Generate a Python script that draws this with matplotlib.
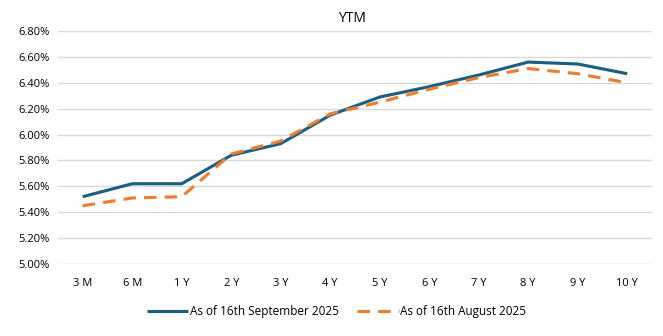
import matplotlib
matplotlib.use("Agg")
import matplotlib.pyplot as plt
from matplotlib.ticker import FuncFormatter

categories = ["3 M", "6 M", "1 Y", "2 Y", "3 Y", "4 Y", "5 Y", "6 Y", "7 Y", "8 Y", "9 Y", "10 Y"]
sep_2025 = [5.52, 5.62, 5.62, 5.84, 5.93, 6.15, 6.29, 6.37, 6.46, 6.56, 6.545, 6.47]
aug_2025 = [5.45, 5.51, 5.52, 5.85, 5.95, 6.16, 6.25, 6.35, 6.44, 6.51, 6.47, 6.40]
series_names = ["As of 16th September 2025", "As of 16th August 2025"]

plt.rcParams['font.family'] = ['Open Sans', 'DejaVu Sans']

fig = plt.figure(figsize=(6.63, 3.36), dpi=100)
ax = fig.add_axes([58/663, 1-264/336, (652-58)/663, (264-31)/336])

x = list(range(len(categories)))
ax.plot(x, sep_2025, color="#1D5F80", lw=2.25, solid_capstyle="butt", label=series_names[0])
ax.plot(x, aug_2025, color="#ED7D31", lw=2.25, ls=(0, (4, 2.6)), label=series_names[1])

ax.set_xlim(-0.5, len(categories) - 0.5)
ax.set_ylim(5.0, 6.8)
ax.set_yticks([5.0 + 0.2 * i for i in range(10)])
ax.yaxis.set_major_formatter(FuncFormatter(lambda v, p: f"{v:.2f}%"))
ax.set_xticks(x)
ax.set_xticklabels(categories)
ax.grid(axis="y", color="#D9D9D9", lw=1)
ax.set_axisbelow(True)
for s in ax.spines.values():
    s.set_visible(False)
ax.tick_params(length=0, labelsize=8, colors="#000000")
ax.tick_params(axis="x", pad=10)
ax.tick_params(axis="y", pad=6)

fig.text(0.5 + 20/663, 1 - 18/336, "YTM", ha="center", va="center", fontsize=10)
fig.legend(loc="center", bbox_to_anchor=(0.5 + 5/663, 1 - 312/336), ncol=2, frameon=False,
           fontsize=8.5, handlelength=3.5, columnspacing=1.6, handletextpad=0.1)

fig.savefig("out.png", dpi=100)
